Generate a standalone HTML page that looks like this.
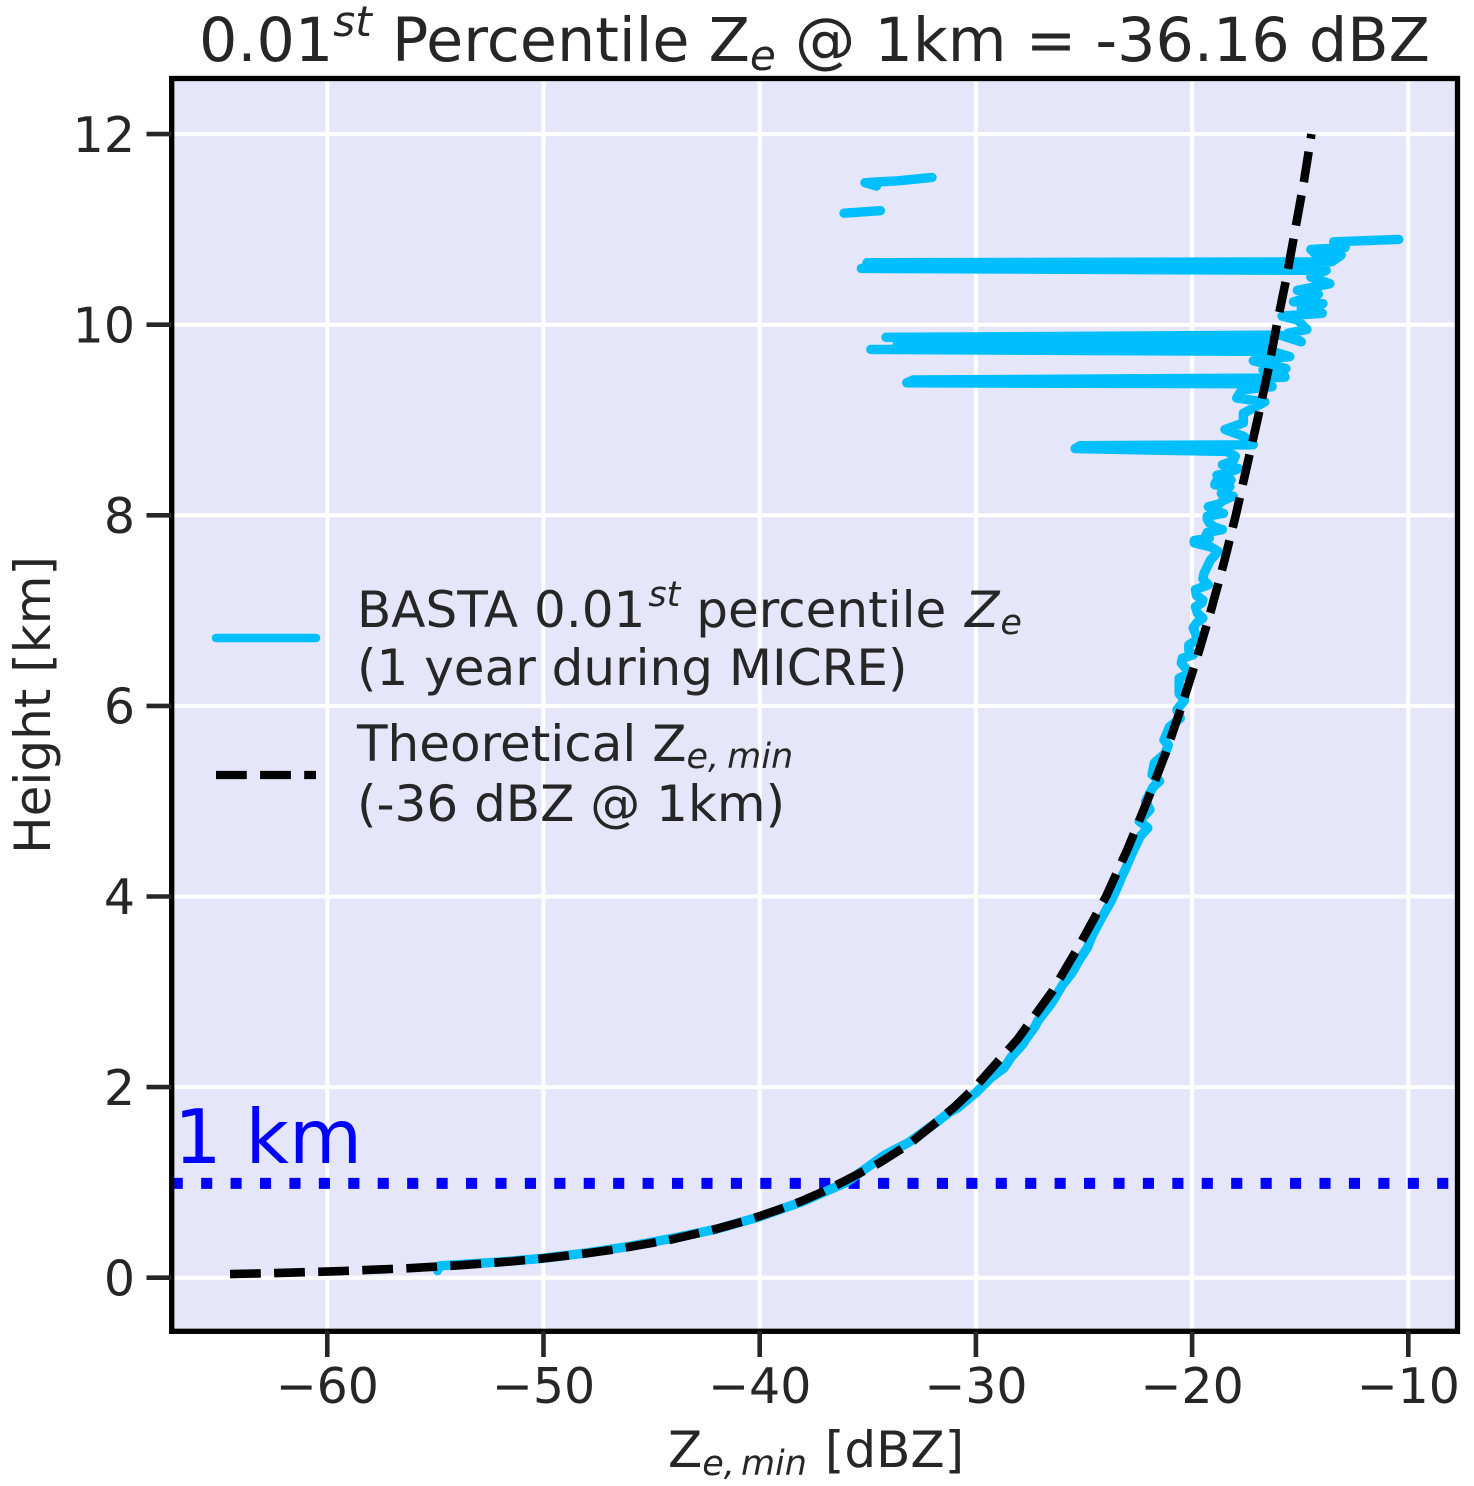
<!DOCTYPE html>
<html lang="en">
<head>
<meta charset="utf-8">
<title>0.01st Percentile Ze at 1km</title>
<style>
html,body{margin:0;padding:0;background:#fff;}
svg{display:block;}
text{font-family:"DejaVu Sans","Liberation Sans",sans-serif;fill:#262626;}
</style>
</head>
<body>
<svg id="chart" xmlns="http://www.w3.org/2000/svg" width="1474" height="1486" viewBox="0 0 1474 1486">
  <defs><clipPath id="plot-clip"><rect x="171.7" y="78.5" width="1285.8" height="1252.8"/></clipPath></defs>
  <rect width="1474" height="1486" fill="#fff"/>
  <rect x="171.7" y="78.5" width="1285.8" height="1252.8" fill="#E6E6FA"/>
  <g id="grid"></g>
  <g id="series" clip-path="url(#plot-clip)"></g>
  <rect x="171.7" y="78.5" width="1285.8" height="1252.8" fill="none" stroke="#000" stroke-width="5.3"/>
  <g id="ticks"></g>

  <text x="199" y="61" font-size="60.3">0.01<tspan font-size="42.2" font-style="italic" dy="-25">st</tspan><tspan dy="25" dx="1"> Percentile Z</tspan><tspan font-size="42.2" font-style="italic" dy="9">e</tspan><tspan dy="-9"> @ 1km = -36.16 dBZ</tspan></text>
  <text x="668" y="1467" font-size="50">Z<tspan font-size="35" font-style="italic" dy="8">e,</tspan><tspan font-size="35" font-style="italic" dx="6">min</tspan><tspan dy="-8" dx="2"> [dBZ]</tspan></text>
  <text transform="translate(50,705) rotate(-90)" text-anchor="middle" font-size="50">Height [km]</text>
  <text x="174" y="1163" font-size="75" style="fill:#0000ff">1 km</text>

  <g>
    <line x1="216" y1="638" x2="316" y2="638" stroke="#00BFFF" stroke-width="8.6" stroke-linecap="round"/>
    <text x="357" y="627" font-size="50">BASTA 0.01<tspan font-size="35" font-style="italic" dy="-21" dx="3">st</tspan><tspan dy="21"> percentile </tspan><tspan font-style="italic" dx="3">Z</tspan><tspan font-size="35" font-style="italic" dy="7" dx="1">e</tspan></text>
    <text x="357" y="685" font-size="50">(1 year during MICRE)</text>
    <line x1="216" y1="775" x2="316" y2="775" stroke="#000" stroke-width="8.3" stroke-dasharray="30.8 13.3"/>
    <text x="357" y="761" font-size="50">Theoretical Z<tspan font-size="35" font-style="italic" dy="7">e,</tspan><tspan font-size="35" font-style="italic" dx="8">min</tspan></text>
    <text x="357" y="821" font-size="50">(-36 dBZ @ 1km)</text>
  </g>
</svg>
<script>
const xTickValues = [-60, -50, -40, -30, -20, -10];
const yTickValues = [0, 2, 4, 6, 8, 10, 12];
const xTickLabels = ["\u221260", "\u221250", "\u221240", "\u221230", "\u221220", "\u221210"];
const yTickLabels = ["0", "2", "4", "6", "8", "10", "12"];
const referenceHeight = [1];

const theoreticalZe = [-64.5,-62.2,-59.3,-56.2,-53.9,-51.55,-50.1,-48.2,-46.6,-44.1,-42.2,-40.6,-39.3,-38.1,-37.1,-36.2,-34.5,-33.1,-32,-30.95,-30.03,-28.08,-26.48,-25.18,-23.98,-22.98,-22.08,-21.23,-20.48,-19.78,-19.13,-18.53,-17.98,-17.48,-16.98,-16.5,-16.08,-15.63,-15.23,-14.83,-14.48];
const theoreticalHeight = [0.038,0.05,0.07,0.1,0.13,0.17,0.2,0.25,0.3,0.4,0.5,0.6,0.7,0.8,0.9,1,1.2,1.4,1.6,1.8,2,2.5,3,3.5,4,4.5,5,5.5,6,6.5,7,7.5,8,8.5,9,9.5,10,10.5,11,11.5,12];

const bastaZe = [
  -54.9,-54.8,-52,-50,-48,-46,-44,-42,-40,-38,-36,-34.2,-33.1,-32,-31.2,
  -30.85,-30,-29.35,-28.7,-28.35,-27.85,-27.7,-27.25,-27.15,-26.5,-26,-25.55,-25.2,-24.85,-24.6,-24.2,-23.75,-23.45,-23.25,-23.1,-22.8,-22.4,-22.05,-22.45,-21.95,-22.15,-21.8,-21.5,-21.85,-21.75,-21.25,-21.1,-21.3,-21.05,-20.55,-20.7,-20.35,-20.6,-20.6,-20.15,-20.25,
  -20.5,-20.45,-19.95,-20.15,-20.15,-19.75,-19.85,-19.95,-19.8,-19.5,-19.75,-19.85,-19.55,-19.5,-19.8,-19.85,-19.25,-19.5,-19.45,-19.3,-19.15,-18.95,-18.8,-19.15,-19.9,-19.9,-19.2,-19.35,-19.3,-18.6,-19,-19.2,-19.3,-19.3,-18.55,-19,-19.25,-18.75,-18.6,-18.1,-18.65,-18.5,-18.25,-18.95,-18.9,-18.2,-18.5,-18.85,-18.3,-17.85,-18.6,-18.1,-18,-18.4,
  -25.41,-25.18,-17.17,-17.63,-18.48,-17.63,-17.63,-16.63,-17.94,-17.7,-16.3,-17,-33.2,-32.9,-16.5,-15.7,-15.84,-16.72,-15.66,-17.17,-15.48,-16.28,-34.86,-16.28,-33.63,-16.28,-34.16,-15.93,-14.95,-15.57,-14.69,-15.13,-15.84,-13.98,-14.95,-13.95,-15.31,-14.16,-15.13,-13.63,-14.51,-13.8,-35.3,-15,-35.04,-13.54,-13.1,-14.33,-14.51,-12.92,-13.45,-10.44,
  null,-36.1,-34.42,
  null,-34.6,-35.13,-33.6,-32.03
];
const bastaHeight = [
  0.075,0.125,0.165,0.205,0.26,0.33,0.415,0.51,0.64,0.8,1,1.29,1.42,1.6,1.74,
  1.78,1.94,2.09,2.2,2.32,2.445,2.5,2.64,2.69,2.88,3.07,3.2,3.34,3.46,3.6,3.77,3.95,4.1,4.21,4.28,4.44,4.63,4.72,4.79,4.91,5,5.15,5.21,5.28,5.4,5.5,5.59,5.64,5.78,5.87,5.96,6.06,6.13,6.29,6.34,6.38,
  6.45,6.5,6.535,6.58,6.64,6.7,6.76,6.82,6.87,6.92,6.97,7.04,7.08,7.11,7.16,7.22,7.27,7.33,7.39,7.46,7.53,7.58,7.62,7.67,7.71,7.735,7.76,7.79,7.82,7.85,7.88,7.92,7.96,7.99,8.02,8.05,8.09,8.12,8.15,8.2,8.23,8.27,8.3,8.32,8.35,8.37,8.4,8.42,8.45,8.49,8.53,8.57,8.62,8.67,
  8.7,8.73,8.74,8.83,8.9,8.97,9.07,9.19,9.23,9.315,9.35,9.38,9.39,9.42,9.44,9.45,9.5,9.525,9.54,9.62,9.665,9.72,9.74,9.77,9.8,9.81,9.867,9.89,9.82,9.91,9.95,10.05,10.09,10.12,10.17,10.22,10.24,10.32,10.36,10.43,10.5,10.57,10.59,10.62,10.65,10.66,10.73,10.75,10.79,10.81,10.87,10.895,
  null,11.17,11.196,
  null,11.455,11.49,11.51,11.545
];

const SVG_NS = "http://www.w3.org/2000/svg";
const X_AT_MINUS_60 = 327.3, PX_PER_DBZ = 21.62;
const Y_AT_ZERO = 1277.7, PX_PER_KM = 95.3;
const LEFT = 171.7, RIGHT = 1457.5, TOP = 78.5, BOTTOM = 1331.3;

function xScale(z) { return X_AT_MINUS_60 + (z + 60) * PX_PER_DBZ; }
function yScale(h) { return Y_AT_ZERO - h * PX_PER_KM; }

function makeEl(tag, attrs, parent) {
  const el = document.createElementNS(SVG_NS, tag);
  Object.keys(attrs).forEach(function (k) { el.setAttribute(k, attrs[k]); });
  parent.appendChild(el);
  return el;
}

function pathFrom(zs, hs) {
  let d = "", pen = false;
  for (let i = 0; i < zs.length; i++) {
    if (zs[i] === null || hs[i] === null) { pen = false; continue; }
    d += (pen ? "L" : "M") + xScale(zs[i]).toFixed(2) + " " + yScale(hs[i]).toFixed(2);
    pen = true;
  }
  return d;
}

const gridLayer = document.getElementById("grid");
const tickLayer = document.getElementById("ticks");
const seriesLayer = document.getElementById("series");

xTickValues.forEach(function (v, i) {
  const gx = makeEl("line", {x1: xScale(v), x2: xScale(v), y1: TOP, y2: BOTTOM, stroke: "#fff", "stroke-width": 4}, gridLayer);
  
  
  const tx = makeEl("line", {x1: xScale(v), x2: xScale(v), y1: BOTTOM, y2: 1357, stroke: "#262626", "stroke-width": 4.6}, tickLayer);
  
  
  const lx = makeEl("text", {x: xScale(v), y: 1403, "text-anchor": "middle", "font-size": 49}, tickLayer);
  
  
  lx.textContent = xTickLabels[i];
});

yTickValues.forEach(function (v, i) {
  const gy = makeEl("line", {x1: LEFT, x2: RIGHT, y1: yScale(v), y2: yScale(v), stroke: "#fff", "stroke-width": 4}, gridLayer);
  
  
  const ty = makeEl("line", {x1: 146.5, x2: LEFT, y1: yScale(v), y2: yScale(v), stroke: "#262626", "stroke-width": 4.6}, tickLayer);
  
  
  const ly = makeEl("text", {x: 135, y: yScale(v) + 17.7, "text-anchor": "end", "font-size": 49}, tickLayer);
  
  
  ly.textContent = yTickLabels[i];
});

referenceHeight.forEach(function (h) {
  const ref = makeEl("line", {x1: LEFT, x2: RIGHT, y1: yScale(h) + 1, y2: yScale(h) + 1, stroke: "#0000ff", "stroke-width": 11, "stroke-dasharray": "11.1 18.33"}, seriesLayer);
  
  
});

const bastaPath = makeEl("path", {d: pathFrom(bastaZe, bastaHeight), fill: "none", stroke: "#00BFFF", "stroke-width": 9.4, "stroke-linecap": "round", "stroke-linejoin": "round"}, seriesLayer);



const theoreticalPath = makeEl("path", {d: pathFrom(theoreticalZe, theoreticalHeight), fill: "none", stroke: "#000", "stroke-width": 8.6, "stroke-dasharray": "30.8 13.3", "stroke-linejoin": "round"}, seriesLayer);


</script>
</body>
</html>
